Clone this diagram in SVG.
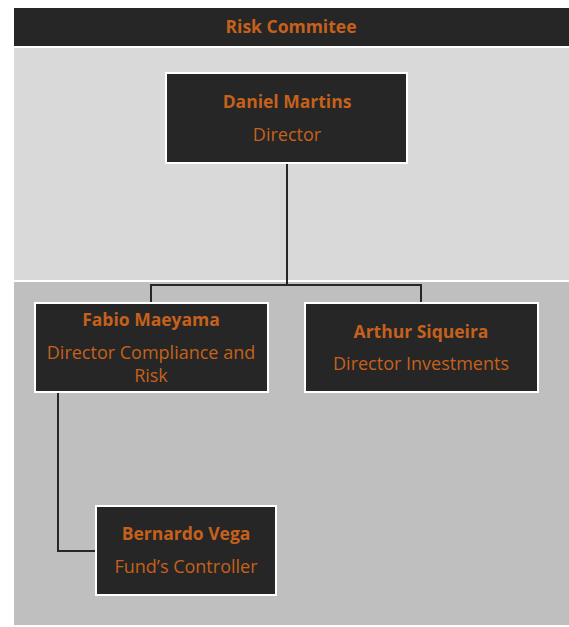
<svg xmlns="http://www.w3.org/2000/svg" width="569" height="627" viewBox="0 0 569 627">
<style>
.bg{fill:#fff}
.box{fill:#262626;stroke:#fff;stroke-width:2}
.t{font-family:"Open Sans","Noto Sans",sans-serif;font-size:18px;fill:#C5611C;text-anchor:middle}
.b{font-weight:bold;font-size:17.5px}
.con{fill:none;stroke:#262626;stroke-width:2}
</style>
<rect class="bg" x="0" y="0" width="569" height="627"/>
<g id="header">
<rect x="14" y="8" width="555" height="38" fill="#262626"/>
<text class="t b" x="291" y="33">Risk Commitee</text>
</g>
<rect x="14" y="48" width="555" height="232" fill="#D9D9D9"/>
<rect x="14" y="282" width="555" height="343" fill="#BFBFBF"/>
<g id="connectors">
<path class="con" d="M287 163 V285 M151 303 V285 H421 V303"/>
<path class="con" d="M58 392 V551 H96"/>
</g>
<g id="daniel">
<rect class="box" x="166" y="73" width="241" height="90"/>
<text class="t b" x="287" y="108">Daniel Martins</text>
<text class="t" x="287" y="141">Director</text>
</g>
<g id="fabio">
<rect class="box" x="35" y="303" width="233" height="89"/>
<text class="t b" x="151" y="326">Fabio Maeyama</text>
<text class="t" x="151" y="359">Director Compliance and</text>
<text class="t" x="151" y="382">Risk</text>
</g>
<g id="arthur">
<rect class="box" x="305" y="303" width="233" height="89"/>
<text class="t b" x="421" y="338">Arthur Siqueira</text>
<text class="t" x="421" y="370">Director Investments</text>
</g>
<g id="bernardo">
<rect class="box" x="96" y="506" width="180" height="89"/>
<text class="t b" x="186" y="540">Bernardo Vega</text>
<text class="t" x="186" y="573">Fund’s Controller</text>
</g>
</svg>
